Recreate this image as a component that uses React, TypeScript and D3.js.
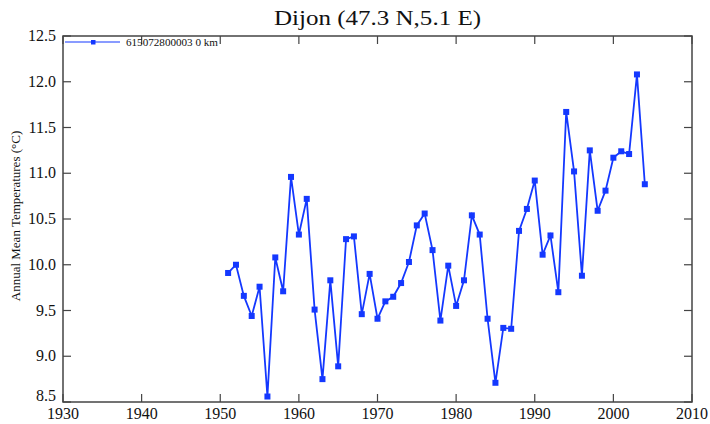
import React from "react";
import * as d3 from "d3";

const years: number[] = [
  1951, 1952, 1953, 1954, 1955, 1956, 1957, 1958, 1959, 1960,
  1961, 1962, 1963, 1964, 1965, 1966, 1967, 1968, 1969, 1970,
  1971, 1972, 1973, 1974, 1975, 1976, 1977, 1978, 1979, 1980,
  1981, 1982, 1983, 1984, 1985, 1986, 1987, 1988, 1989, 1990,
  1991, 1992, 1993, 1994, 1995, 1996, 1997, 1998, 1999, 2000,
  2001, 2002, 2003, 2004,
];
const temps: number[] = [
  9.91, 10.0, 9.66, 9.44, 9.76, 8.56, 10.08, 9.71, 10.96, 10.33,
  10.72, 9.51, 8.75, 9.83, 8.89, 10.28, 10.31, 9.46, 9.9, 9.41,
  9.6, 9.65, 9.8, 10.03, 10.43, 10.56, 10.16, 9.39, 9.99, 9.55,
  9.83, 10.54, 10.33, 9.41, 8.71, 9.31, 9.3, 10.37, 10.61, 10.92,
  10.11, 10.32, 9.7, 11.67, 11.02, 9.88, 11.25, 10.59, 10.81, 11.17,
  11.24, 11.21, 12.08, 10.88,
];
const xTicks: number[] = [1930, 1940, 1950, 1960, 1970, 1980, 1990, 2000, 2010];
const yTicks: number[] = [8.5, 9.0, 9.5, 10.0, 10.5, 11.0, 11.5, 12.0, 12.5];
const title = "Dijon (47.3 N,5.1 E)";
const yLabel = "Annual Mean Temperatures (\u00B0C)";
const legendLabel = "615072800003  0 km";

const W = 710;
const H = 424;
const L = 63;
const R = 692;
const T = 36;
const B = 402;
const BLUE = "#1438ff";
const AX = "#444";

export default function App() {
  const x = d3.scaleLinear().domain([1930, 2010]).range([L, R]);
  const y = d3.scaleLinear().domain([8.5, 12.5]).range([B, T]);
  const pts = years.map((yr, i) => [yr, temps[i]] as [number, number]);
  const line = d3
    .line<[number, number]>()
    .x((d) => x(d[0]))
    .y((d) => y(d[1]));
  const font = "Liberation Serif";
  const tl = 8;
  return (
    <svg
      width={W}
      height={H}
      style={{ position: "absolute", left: 0, top: 0, background: "#fff" }}
    >
      <text
        x={274}
        y={25}
        textLength={207}
        lengthAdjust="spacingAndGlyphs"
        style={{ fontFamily: font }}
        fontSize={20}
        fill="#111"
      >
        {title}
      </text>
      <text
        transform={`translate(20,216) rotate(-90)`}
        textAnchor="middle"
        style={{ fontFamily: font }}
        fontSize={13}
        fill="#111"
      >
        {yLabel}
      </text>
      <rect x={L} y={T} width={R - L} height={B - T} fill="none" stroke={AX} strokeWidth={1.5} />
      {xTicks.map((t) => (
        <g key={"x" + t}>
          <line x1={x(t)} x2={x(t)} y1={B} y2={B - tl} stroke={AX} strokeWidth={1.2} />
          <line x1={x(t)} x2={x(t)} y1={T} y2={T + tl} stroke={AX} strokeWidth={1.2} />
          <text x={x(t)} y={419} textAnchor="middle" style={{ fontFamily: font }} fontSize={16} fill="#111">
            {t}
          </text>
        </g>
      ))}
      {yTicks.map((t) => (
        <g key={"y" + t}>
          <line x1={L} x2={L + tl} y1={y(t)} y2={y(t)} stroke={AX} strokeWidth={1.2} />
          <line x1={R} x2={R - tl} y1={y(t)} y2={y(t)} stroke={AX} strokeWidth={1.2} />
          <text
            x={56}
            y={t === 8.5 ? y(t) - 1 : y(t) + 5}
            textAnchor="end"
            style={{ fontFamily: font }}
            fontSize={16}
            fill="#111"
          >
            {t.toFixed(1)}
          </text>
        </g>
      ))}
      <path d={line(pts) || ""} fill="none" stroke={BLUE} strokeWidth={1.8} />
      {pts.map((d, i) => (
        <rect key={i} x={x(d[0]) - 3} y={y(d[1]) - 3} width={6} height={6} fill={BLUE} />
      ))}
      <line x1={65} x2={120} y1={42} y2={42} stroke={BLUE} strokeWidth={1.2} />
      <rect x={91} y={40} width={4.5} height={4.5} fill={BLUE} />
      <text
        x={126}
        y={46}
        textLength={92}
        lengthAdjust="spacingAndGlyphs"
        style={{ fontFamily: font }}
        fontSize={10}
        fill="#111"
      >
        {legendLabel}
      </text>
    </svg>
  );
}
